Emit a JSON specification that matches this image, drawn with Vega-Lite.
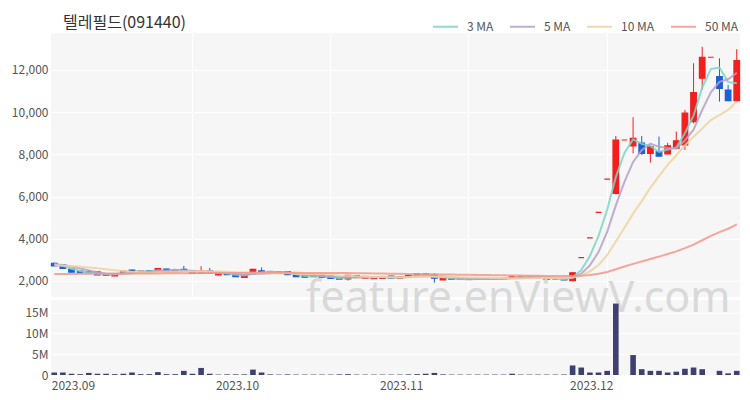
{
  "$schema": "https://vega.github.io/schema/vega-lite/v6.json",
  "background": "white",
  "padding": {"left": 5, "top": 13, "right": 10, "bottom": 2},
  "title": {"text": "텔레필드(091440)", "anchor": "start", "frame": "group", "fontSize": 16, "fontWeight": "normal", "font": "Noto Sans CJK KR", "color": "#333333", "dx": 12, "offset": -34, "baseline": "bottom"},
  "datasets": {
    "px": [
      {"d":"2023-09-01","o":2840,"h":2870,"l":2700,"c":2710,"v":600000,"ma3":2797,"ma5":2788,"ma10":2739,"ma50":2330},
      {"d":"2023-09-04","o":2760,"h":2780,"l":2590,"c":2600,"v":600000,"ma3":2713,"ma5":2758,"ma10":2734,"ma50":2332},
      {"d":"2023-09-05","o":2560,"h":2580,"l":2410,"c":2420,"v":300000,"ma3":2577,"ma5":2682,"ma10":2708,"ma50":2335},
      {"d":"2023-09-06","o":2470,"h":2490,"l":2370,"c":2380,"v":200000,"ma3":2467,"ma5":2588,"ma10":2676,"ma50":2337},
      {"d":"2023-09-07","o":2440,"h":2520,"l":2370,"c":2390,"v":500000,"ma3":2397,"ma5":2500,"ma10":2643,"ma50":2340},
      {"d":"2023-09-08","o":2430,"h":2450,"l":2280,"c":2290,"v":300000,"ma3":2353,"ma5":2416,"ma10":2602,"ma50":2341},
      {"d":"2023-09-11","o":2340,"h":2360,"l":2260,"c":2270,"v":300000,"ma3":2317,"ma5":2350,"ma10":2554,"ma50":2343},
      {"d":"2023-09-12","o":2240,"h":2370,"l":2230,"c":2350,"v":200000,"ma3":2303,"ma5":2336,"ma10":2509,"ma50":2344},
      {"d":"2023-09-13","o":2360,"h":2480,"l":2350,"c":2470,"v":300000,"ma3":2363,"ma5":2354,"ma10":2471,"ma50":2347},
      {"d":"2023-09-14","o":2520,"h":2540,"l":2430,"c":2440,"v":600000,"ma3":2420,"ma5":2364,"ma10":2432,"ma50":2349},
      {"d":"2023-09-15","o":2410,"h":2490,"l":2400,"c":2470,"v":200000,"ma3":2460,"ma5":2400,"ma10":2408,"ma50":2351},
      {"d":"2023-09-18","o":2480,"h":2500,"l":2400,"c":2420,"v":200000,"ma3":2443,"ma5":2430,"ma10":2390,"ma50":2354},
      {"d":"2023-09-19","o":2450,"h":2620,"l":2440,"c":2590,"v":700000,"ma3":2493,"ma5":2478,"ma10":2407,"ma50":2358},
      {"d":"2023-09-20","o":2560,"h":2580,"l":2440,"c":2450,"v":200000,"ma3":2487,"ma5":2474,"ma10":2414,"ma50":2360},
      {"d":"2023-09-21","o":2450,"h":2570,"l":2440,"c":2540,"v":200000,"ma3":2527,"ma5":2494,"ma10":2429,"ma50":2363},
      {"d":"2023-09-22","o":2550,"h":2710,"l":2440,"c":2450,"v":1000000,"ma3":2480,"ma5":2490,"ma10":2445,"ma50":2366},
      {"d":"2023-09-25","o":2470,"h":2490,"l":2350,"c":2360,"v":300000,"ma3":2450,"ma5":2478,"ma10":2454,"ma50":2368},
      {"d":"2023-09-26","o":2360,"h":2700,"l":2350,"c":2470,"v":1700000,"ma3":2427,"ma5":2454,"ma10":2466,"ma50":2372},
      {"d":"2023-09-27","o":2480,"h":2620,"l":2350,"c":2370,"v":300000,"ma3":2400,"ma5":2438,"ma10":2456,"ma50":2375},
      {"d":"2023-10-04","o":2290,"h":2400,"l":2270,"c":2380,"v":100000,"ma3":2407,"ma5":2406,"ma10":2450,"ma50":2377},
      {"d":"2023-10-05","o":2380,"h":2400,"l":2290,"c":2300,"v":150000,"ma3":2350,"ma5":2376,"ma10":2433,"ma50":2380},
      {"d":"2023-10-06","o":2310,"h":2330,"l":2200,"c":2210,"v":150000,"ma3":2297,"ma5":2346,"ma10":2412,"ma50":2381},
      {"d":"2023-10-10","o":2170,"h":2290,"l":2150,"c":2270,"v":150000,"ma3":2260,"ma5":2306,"ma10":2380,"ma50":2384},
      {"d":"2023-10-11","o":2330,"h":2580,"l":2320,"c":2550,"v":1300000,"ma3":2343,"ma5":2342,"ma10":2390,"ma50":2386},
      {"d":"2023-10-12","o":2480,"h":2640,"l":2350,"c":2370,"v":600000,"ma3":2397,"ma5":2340,"ma10":2373,"ma50":2389},
      {"d":"2023-10-13","o":2380,"h":2450,"l":2360,"c":2430,"v":150000,"ma3":2450,"ma5":2366,"ma10":2371,"ma50":2390},
      {"d":"2023-10-16","o":2390,"h":2450,"l":2370,"c":2430,"v":100000,"ma3":2410,"ma5":2410,"ma10":2378,"ma50":2389},
      {"d":"2023-10-17","o":2440,"h":2470,"l":2280,"c":2300,"v":150000,"ma3":2387,"ma5":2416,"ma10":2361,"ma50":2387},
      {"d":"2023-10-18","o":2330,"h":2340,"l":2200,"c":2210,"v":100000,"ma3":2313,"ma5":2348,"ma10":2345,"ma50":2385},
      {"d":"2023-10-19","o":2280,"h":2290,"l":2170,"c":2180,"v":100000,"ma3":2230,"ma5":2310,"ma10":2325,"ma50":2382},
      {"d":"2023-10-20","o":2200,"h":2330,"l":2190,"c":2300,"v":100000,"ma3":2230,"ma5":2284,"ma10":2325,"ma50":2381},
      {"d":"2023-10-23","o":2280,"h":2300,"l":2160,"c":2170,"v":100000,"ma3":2217,"ma5":2232,"ma10":2321,"ma50":2378},
      {"d":"2023-10-24","o":2230,"h":2240,"l":2110,"c":2120,"v":100000,"ma3":2197,"ma5":2196,"ma10":2306,"ma50":2377},
      {"d":"2023-10-25","o":2150,"h":2160,"l":2080,"c":2090,"v":150000,"ma3":2127,"ma5":2172,"ma10":2260,"ma50":2374},
      {"d":"2023-10-26","o":2100,"h":2280,"l":2020,"c":2260,"v":200000,"ma3":2157,"ma5":2188,"ma10":2249,"ma50":2372},
      {"d":"2023-10-27","o":2250,"h":2260,"l":2160,"c":2170,"v":100000,"ma3":2173,"ma5":2162,"ma10":2223,"ma50":2369},
      {"d":"2023-10-30","o":2130,"h":2220,"l":2120,"c":2200,"v":100000,"ma3":2210,"ma5":2168,"ma10":2200,"ma50":2364},
      {"d":"2023-10-31","o":2110,"h":2190,"l":2100,"c":2170,"v":100000,"ma3":2180,"ma5":2178,"ma10":2187,"ma50":2358},
      {"d":"2023-11-01","o":2120,"h":2210,"l":2110,"c":2200,"v":100000,"ma3":2190,"ma5":2200,"ma10":2186,"ma50":2353},
      {"d":"2023-11-02","o":2230,"h":2250,"l":2120,"c":2130,"v":100000,"ma3":2167,"ma5":2174,"ma10":2181,"ma50":2346},
      {"d":"2023-11-03","o":2130,"h":2200,"l":2120,"c":2180,"v":100000,"ma3":2170,"ma5":2176,"ma10":2169,"ma50":2341},
      {"d":"2023-11-06","o":2200,"h":2290,"l":2180,"c":2270,"v":150000,"ma3":2193,"ma5":2190,"ma10":2179,"ma50":2334},
      {"d":"2023-11-07","o":2340,"h":2360,"l":2250,"c":2270,"v":200000,"ma3":2240,"ma5":2210,"ma10":2194,"ma50":2329},
      {"d":"2023-11-08","o":2330,"h":2380,"l":2260,"c":2280,"v":300000,"ma3":2273,"ma5":2226,"ma10":2213,"ma50":2322},
      {"d":"2023-11-09","o":2290,"h":2360,"l":1920,"c":2130,"v":500000,"ma3":2227,"ma5":2226,"ma10":2200,"ma50":2317},
      {"d":"2023-11-10","o":2050,"h":2140,"l":2040,"c":2130,"v":150000,"ma3":2180,"ma5":2216,"ma10":2196,"ma50":2310},
      {"d":"2023-11-13","o":2130,"h":2140,"l":2060,"c":2080,"v":100000,"ma3":2113,"ma5":2178,"ma10":2184,"ma50":2305},
      {"d":"2023-11-14","o":2110,"h":2120,"l":2070,"c":2080,"v":100000,"ma3":2097,"ma5":2140,"ma10":2175,"ma50":2297},
      {"d":"2023-11-15","o":2070,"h":2110,"l":2060,"c":2100,"v":100000,"ma3":2087,"ma5":2104,"ma10":2165,"ma50":2293},
      {"d":"2023-11-16","o":2080,"h":2110,"l":2070,"c":2100,"v":100000,"ma3":2093,"ma5":2098,"ma10":2162,"ma50":2286},
      {"d":"2023-11-17","o":2090,"h":2110,"l":2070,"c":2100,"v":100000,"ma3":2100,"ma5":2092,"ma10":2154,"ma50":2281},
      {"d":"2023-11-20","o":2090,"h":2120,"l":2080,"c":2110,"v":100000,"ma3":2103,"ma5":2098,"ma10":2138,"ma50":2274},
      {"d":"2023-11-21","o":2100,"h":2130,"l":2080,"c":2120,"v":100000,"ma3":2110,"ma5":2106,"ma10":2123,"ma50":2269},
      {"d":"2023-11-22","o":2130,"h":2280,"l":2120,"c":2200,"v":300000,"ma3":2143,"ma5":2126,"ma10":2115,"ma50":2262},
      {"d":"2023-11-23","o":2150,"h":2220,"l":2140,"c":2200,"v":100000,"ma3":2173,"ma5":2146,"ma10":2122,"ma50":2257},
      {"d":"2023-11-24","o":2160,"h":2220,"l":2150,"c":2210,"v":100000,"ma3":2203,"ma5":2168,"ma10":2130,"ma50":2250},
      {"d":"2023-11-27","o":2190,"h":2200,"l":2130,"c":2150,"v":100000,"ma3":2187,"ma5":2176,"ma10":2137,"ma50":2246},
      {"d":"2023-11-28","o":2160,"h":2170,"l":2070,"c":2090,"v":100000,"ma3":2150,"ma5":2170,"ma10":2138,"ma50":2240},
      {"d":"2023-11-29","o":2120,"h":2130,"l":2060,"c":2100,"v":100000,"ma3":2113,"ma5":2150,"ma10":2138,"ma50":2236},
      {"d":"2023-11-30","o":2120,"h":2130,"l":2030,"c":2050,"v":150000,"ma3":2080,"ma5":2120,"ma10":2133,"ma50":2230},
      {"d":"2023-12-01","o":2010,"h":2420,"l":2000,"c":2390,"v":2300000,"ma3":2180,"ma5":2156,"ma10":2162,"ma50":2231},
      {"d":"2023-12-04","o":3110,"h":3110,"l":3110,"c":3110,"v":1800000,"ma3":2517,"ma5":2348,"ma10":2262,"ma50":2246},
      {"d":"2023-12-05","o":4040,"h":4040,"l":4040,"c":4040,"v":600000,"ma3":3180,"ma5":2738,"ma10":2454,"ma50":2280},
      {"d":"2023-12-06","o":5250,"h":5250,"l":5250,"c":5250,"v":600000,"ma3":4133,"ma5":3368,"ma10":2759,"ma50":2338},
      {"d":"2023-12-07","o":6830,"h":6830,"l":6830,"c":6830,"v":1000000,"ma3":5373,"ma5":4324,"ma10":3222,"ma50":2428},
      {"d":"2023-12-08","o":6150,"h":8870,"l":6100,"c":8680,"v":17200000,"ma3":6920,"ma5":5582,"ma10":3869,"ma50":2555},
      {"d":"2023-12-11","o":8680,"h":8680,"l":8680,"c":8680,"v":0,"ma3":8063,"ma5":6696,"ma10":4522,"ma50":2682},
      {"d":"2023-12-12","o":8400,"h":9760,"l":8050,"c":8760,"v":4800000,"ma3":8707,"ma5":7640,"ma10":5189,"ma50":2810},
      {"d":"2023-12-13","o":8530,"h":8870,"l":7970,"c":8050,"v":1400000,"ma3":8497,"ma5":8200,"ma10":5784,"ma50":2924},
      {"d":"2023-12-14","o":8050,"h":8450,"l":7610,"c":8370,"v":1000000,"ma3":8393,"ma5":8508,"ma10":6416,"ma50":3044},
      {"d":"2023-12-15","o":8130,"h":8840,"l":7900,"c":7920,"v":1000000,"ma3":8113,"ma5":8356,"ma10":6969,"ma50":3155},
      {"d":"2023-12-18","o":8020,"h":8550,"l":8000,"c":8400,"v":600000,"ma3":8230,"ma5":8300,"ma10":7498,"ma50":3276},
      {"d":"2023-12-19","o":8290,"h":9080,"l":8240,"c":8640,"v":800000,"ma3":8320,"ma5":8276,"ma10":7958,"ma50":3402},
      {"d":"2023-12-20","o":8450,"h":10100,"l":8210,"c":9950,"v":1500000,"ma3":8997,"ma5":8656,"ma10":8428,"ma50":3554},
      {"d":"2023-12-21","o":9550,"h":12320,"l":9470,"c":10920,"v":1800000,"ma3":9837,"ma5":9166,"ma10":8837,"ma50":3725},
      {"d":"2023-12-22","o":11610,"h":13100,"l":11050,"c":12600,"v":1400000,"ma3":11157,"ma5":10102,"ma10":9229,"ma50":3930},
      {"d":"2023-12-26","o":12600,"h":12600,"l":12600,"c":12600,"v":0,"ma3":12040,"ma5":10942,"ma10":9621,"ma50":4135},
      {"d":"2023-12-27","o":11680,"h":12550,"l":10500,"c":11130,"v":1000000,"ma3":12110,"ma5":11440,"ma10":9858,"ma50":4311},
      {"d":"2023-12-28","o":11050,"h":11290,"l":10520,"c":10550,"v":400000,"ma3":11427,"ma5":11560,"ma10":10108,"ma50":4475},
      {"d":"2024-01-02","o":10550,"h":12980,"l":10500,"c":12440,"v":1000000,"ma3":11373,"ma5":11864,"ma10":10515,"ma50":4677}
    ]
  },
  "vconcat": [
    {
      "width": 689,
      "height": 264,
      "data": {"name": "px"},
      "encoding": {
        "x": {
          "field": "d", "type": "ordinal",
          "scale": {"paddingInner": 0.35, "paddingOuter": 0.05},
          "axis": {"values": ["2023-09-25", "2023-10-24", "2023-11-15", "2023-12-07"], "labels": false, "grid": true, "bandPosition": 0.5, "title": null, "domain": false, "ticks": false}
        }
      },
      "layer": [
        {
          "mark": {"type": "rule", "strokeWidth": 1},
          "encoding": {
            "y": {"field": "l", "type": "quantitative", "scale": {"domain": [1240, 13750], "nice": false, "zero": false},
                  "axis": {"values": [2000, 4000, 6000, 8000, 10000, 12000], "labelExpr": "format(datum.value, ',')", "title": null, "grid": true, "minExtent": 46, "maxExtent": 46, "labelPadding": 3}},
            "y2": {"field": "h"},
            "color": {"condition": {"test": "datum.c >= datum.o", "value": "#f21f1f"}, "value": "#1d5fd6"}
          }
        },
        {
          "mark": {"type": "bar", "strokeWidth": 1.2},
          "encoding": {
            "y": {"field": "o", "type": "quantitative"},
            "y2": {"field": "c"},
            "fill": {"condition": {"test": "datum.c >= datum.o", "value": "#f21f1f"}, "value": "#1d5fd6"},
            "stroke": {"condition": {"test": "datum.c >= datum.o", "value": "#f21f1f"}, "value": "#1d5fd6"}
          }
        },
        {
          "transform": [{"fold": ["ma3", "ma5", "ma10", "ma50"], "as": ["k", "val"]}],
          "mark": {"type": "line", "strokeWidth": 2, "opacity": 0.85},
          "encoding": {
            "y": {"field": "val", "type": "quantitative"},
            "color": {
              "field": "k", "type": "nominal",
              "scale": {"domain": ["ma3", "ma5", "ma10", "ma50"], "range": ["#7dd3c5", "#b4a0c8", "#f0d29e", "#f5978a"]},
              "legend": {"orient": "none", "legendX": 381, "legendY": -20, "direction": "horizontal", "title": null,
                         "symbolType": "stroke", "symbolSize": 625, "symbolStrokeWidth": 2, "labelFontSize": 12,
                         "labelColor": "#555555", "labelFont": "Noto Sans CJK KR", "labelOffset": 8, "columnPadding": 12,
                         "labelExpr": "replace(datum.label, 'ma', '') + ' MA'"}
            }
          }
        }
      ]
    },
    {
      "width": 689,
      "height": 75,
      "resolve": {"axis": {"x": "independent", "y": "independent"}},
      "layer": [
        {
          "data": {"values": [{"t": "feature.enViewV.com"}]},
          "mark": {"type": "text", "fontSize": 43, "color": "#d9d9d9", "font": "Noto Sans", "align": "center", "baseline": "middle", "dx": 6},
          "encoding": {
            "text": {"field": "t"},
            "x": {"datum": "2023-11-22", "type": "ordinal", "axis": null},
            "y": {"datum": 18300000, "type": "quantitative", "axis": null}
          }
        },
        {
          "data": {"name": "px"},
          "mark": {"type": "bar", "color": "#3d4070"},
          "encoding": {
            "x": {
              "field": "d", "type": "ordinal",
              "scale": {"paddingInner": 0.35, "paddingOuter": 0.05},
              "axis": {"orient": "bottom", "values": ["2023-09-01", "2023-10-04", "2023-11-01", "2023-12-01"], "title": null, "grid": false, "bandPosition": 0,
                       "labelAlign": "left", "labelAngle": 0, "labelOffset": -2.5, "labelPadding": 5,
                       "labelExpr": "replace(slice(datum.value, 0, 7), '-', '.')"}
            },
            "y": {
              "field": "v", "type": "quantitative",
              "scale": {"domain": [0, 18060000], "nice": false},
              "axis": {"orient": "left", "values": [0, 5000000, 10000000, 15000000], "title": null, "grid": true, "minExtent": 46, "maxExtent": 46, "labelPadding": 3,
                       "labelOverlap": false,
                       "labelExpr": "datum.value == 0 ? '0' : (datum.value / 1000000) + 'M'"}
            }
          }
        }
      ]
    }
  ],
  "spacing": 3,
  "bounds": "flush",
  "resolve": {"scale": {"color": "independent"}},
  "config": {
    "view": {"fill": "#f6f6f6", "stroke": null},
    "axis": {"domain": false, "ticks": false, "gridColor": "#ffffff", "gridWidth": 1, "labelColor": "#555555", "labelFont": "Noto Sans CJK KR", "labelFontSize": 12}
  }
}
